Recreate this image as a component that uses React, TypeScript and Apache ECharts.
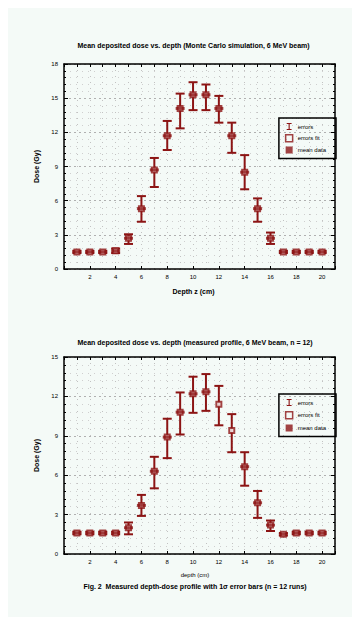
import React, { useEffect, useRef } from "react";
import * as echarts from "echarts";

const RED = "#8c1414";
const FONT = "'Liberation Sans', Arial, sans-serif";

// positions along x (bins)
const xs = [1, 2, 3, 4, 5, 6, 7, 8, 9, 10, 11, 12, 13, 14, 15, 16, 17, 18, 19, 20];
const xTickLabels = [2, 4, 6, 8, 10, 12, 14, 16, 18, 20];

// top panel
const topMean = [1.5, 1.5, 1.5, 1.6, 2.7, 5.3, 8.7, 11.7, 14.1, 15.3, 15.3, 14.1, 11.7, 8.5, 5.3, 2.7, 1.5, 1.5, 1.5, 1.5];
const topLow = [1.4, 1.4, 1.4, 1.4, 2.2, 4.15, 7.2, 10.45, 12.35, 13.95, 13.95, 12.85, 10.2, 7.0, 4.15, 2.2, 1.4, 1.4, 1.4, 1.4];
const topHigh = [1.6, 1.6, 1.6, 1.8, 3.05, 6.4, 9.75, 13.0, 15.4, 16.4, 16.2, 15.2, 12.85, 10.0, 6.2, 3.2, 1.6, 1.6, 1.6, 1.6];
const topYTicks = [0, 3, 6, 9, 12, 15, 18];

// bottom panel
const botMean = [1.6, 1.6, 1.6, 1.6, 2.0, 3.7, 6.3, 8.9, 10.8, 12.2, 12.35, 11.4, 9.4, 6.65, 3.9, 2.2, 1.5, 1.6, 1.6, 1.6];
const botLow = [1.5, 1.5, 1.5, 1.5, 1.5, 2.9, 5.0, 7.3, 9.1, 10.75, 10.9, 9.8, 7.75, 5.2, 2.75, 1.75, 1.4, 1.5, 1.5, 1.5];
const botHigh = [1.7, 1.7, 1.7, 1.7, 2.4, 4.5, 7.4, 10.3, 12.3, 13.5, 13.7, 12.8, 10.65, 7.75, 4.8, 2.55, 1.6, 1.7, 1.7, 1.7];
const botSamples = [1.6, 1.6, 1.6, 1.6, 2.0, 3.7, 6.3, 8.9, 10.8, 12.2, 12.35, null, null, 6.65, 3.9, 2.2, 1.5, 1.6, 1.6, 1.6];
const botYTicks = [0, 3, 6, 9, 12, 15];

const seriesNames = ["errors", "errors fit", "mean data"];

const titles = [
  "Mean deposited dose vs. depth (Monte Carlo simulation, 6 MeV beam)",
  "Mean deposited dose vs. depth (measured profile, 6 MeV beam, n = 12)",
];
const xNameTop = "Depth z (cm)";
const xNameBot1 = "depth (cm)";
const xNameBot2 = "Fig. 2  Measured depth-dose profile with 1\u03c3 error bars (n = 12 runs)";
const yName = "Dose (Gy)";

const errRender = (params: any, api: any) => {
  const x = api.value(0);
  const lo = api.value(1);
  const hi = api.value(2);
  const pLo = api.coord([x, lo]);
  const pHi = api.coord([x, hi]);
  const w = 4.5;
  const style = { stroke: RED, lineWidth: 2, fill: "none" };
  return {
    type: "group",
    children: [
      { type: "line", shape: { x1: pLo[0], y1: pLo[1], x2: pHi[0], y2: pHi[1] }, style },
      { type: "line", shape: { x1: pLo[0] - w, y1: pLo[1], x2: pLo[0] + w, y2: pLo[1] }, style },
      { type: "line", shape: { x1: pHi[0] - w, y1: pHi[1], x2: pHi[0] + w, y2: pHi[1] }, style },
    ],
  };
};

function axesFor(g: number, yTicks: number[]) {
  const yMin = yTicks[0];
  const yMax = yTicks[yTicks.length - 1];
  const step = yTicks[1] - yTicks[0];
  const line = { onZero: false, lineStyle: { color: "#000", width: 1.5 } };
  const xAxes = [
    {
      gridIndex: g, type: "value", min: 0, max: 21, interval: 2, position: "bottom",
      axisLine: line,
      axisTick: { inside: true, length: 3, lineStyle: { color: "#000", width: 1 } },
      axisLabel: {
        fontSize: 6, color: "#000", margin: 5, fontFamily: FONT,
        formatter: (v: number) => (xTickLabels.includes(v) ? String(v) : ""),
      },
      splitLine: { show: false },
    },
    {
      gridIndex: g, type: "value", min: 0, max: 21, interval: 1, position: "top",
      axisLine: line,
      axisTick: { inside: true, length: 3, lineStyle: { color: "#000", width: 1 } },
      axisLabel: { show: false },
      splitLine: { show: true, lineStyle: { color: "#c2c2c2", type: [1, 5], width: 1 } },
    },
  ];
  const yAxes = [
    {
      gridIndex: g, type: "value", min: yMin, max: yMax, interval: step, position: "left",
      axisLine: line,
      axisTick: { inside: true, length: 4, lineStyle: { color: "#000", width: 1 } },
      minorTick: { show: true, splitNumber: 5, length: 2, lineStyle: { color: "#000", width: 1 } },
      axisLabel: { fontSize: 6, color: "#000", margin: 6, fontFamily: FONT },
      splitLine: { show: true, lineStyle: { color: "#b0b0b0", type: [2, 3], width: 1 } },
      minorSplitLine: { show: true, lineStyle: { color: "#cfcfcf", type: [1, 5], width: 1 } },
      name: yName, nameLocation: "middle", nameGap: 22,
      nameTextStyle: { fontSize: 7, fontWeight: "bold", color: "#000", fontFamily: FONT },
    },
    {
      gridIndex: g, type: "value", min: yMin, max: yMax, interval: step, position: "right",
      axisLine: line,
      axisTick: { inside: true, length: 4, lineStyle: { color: "#000", width: 1 } },
      minorTick: { show: true, splitNumber: 5, length: 2, lineStyle: { color: "#000", width: 1 } },
      axisLabel: { show: false },
      splitLine: { show: false },
    },
  ];
  return { xAxes, yAxes };
}

function seriesFor(g: number, mean: number[], low: number[], high: number[], samples: (number | null)[]) {
  return [
    {
      name: seriesNames[0], type: "custom", xAxisIndex: 2 * g, yAxisIndex: 2 * g,
      renderItem: errRender, encode: { x: 0, y: [1, 2] }, z: 3, silent: true,
      itemStyle: { color: RED },
      data: xs.map((x, i) => [x, low[i], high[i]]),
    },
    {
      name: seriesNames[1], type: "scatter", xAxisIndex: 2 * g, yAxisIndex: 2 * g,
      symbol: "emptyRect", symbolSize: 5, z: 4, silent: true,
      itemStyle: { color: RED, borderColor: RED, borderWidth: 1.5 },
      data: xs.map((x, i) => [x, mean[i]]),
    },
    {
      name: seriesNames[2], type: "scatter", xAxisIndex: 2 * g, yAxisIndex: 2 * g,
      symbol: "rect", symbolSize: [9, 3], z: 5, silent: true,
      itemStyle: { color: RED },
      data: xs.map((x, i) => [x, samples[i]]),
    },
  ];
}

function legendFor(top: number, gap: number) {
  return {
    right: 16, top, orient: "vertical", itemWidth: 7, itemHeight: 7, itemGap: gap,
    padding: [5, 10, 5, 6], borderColor: "#000", borderWidth: 1.5,
    backgroundColor: "rgba(255,255,255,0)",
    textStyle: { fontSize: 6, color: "#000", fontFamily: FONT },
    selectedMode: false,
    data: [
      { name: seriesNames[0], icon: "path://M0,0H7V1.6H4.3V8.4H7V10H0V8.4H2.7V1.6H0Z", itemStyle: { color: RED } },
      { name: seriesNames[1], icon: "rect", itemStyle: { color: "rgba(0,0,0,0)", borderColor: RED, borderWidth: 1.5 } },
      { name: seriesNames[2], icon: "rect", itemStyle: { color: RED } },
    ],
  };
}

export default function App() {
  const ref = useRef<HTMLDivElement>(null);
  useEffect(() => {
    if (!ref.current) return;
    const chart = echarts.init(ref.current, undefined, { renderer: "svg" });
    const a0 = axesFor(0, topYTicks);
    const a1 = axesFor(1, botYTicks);
    const txt = (text: string, x: number, y: number, size: number, weight: string) => ({
      type: "text", x, y, silent: true,
      style: { text, fill: "#000", font: `${weight} ${size}px ${FONT}`, align: "center", verticalAlign: "middle" },
    });
    chart.setOption({
      animation: false,
      backgroundColor: "#f4faf7",
      grid: [
        { left: 56, top: 56, width: 271, height: 205 },
        { left: 56, top: 349, width: 271, height: 197 },
      ],
      xAxis: [...a0.xAxes, ...a1.xAxes],
      yAxis: [...a0.yAxes, ...a1.yAxes],
      legend: [legendFor(110, 4), legendFor(386, 5)],
      series: [
        ...seriesFor(0, topMean, topLow, topHigh, topMean),
        ...seriesFor(1, botMean, botLow, botHigh, botSamples),
      ],
      graphic: [
        txt(titles[0], 185.5, 37, 7, "bold"),
        txt(xNameTop, 185.5, 283, 7, "bold"),
        txt(titles[1], 187, 334, 7, "bold"),
        txt(xNameBot1, 187, 567, 6, "normal"),
        txt(xNameBot2, 187, 578, 7, "bold"),
      ],
    });
    return () => chart.dispose();
  }, []);
  return <div ref={ref} style={{ width: 344, height: 609 }} />;
}
